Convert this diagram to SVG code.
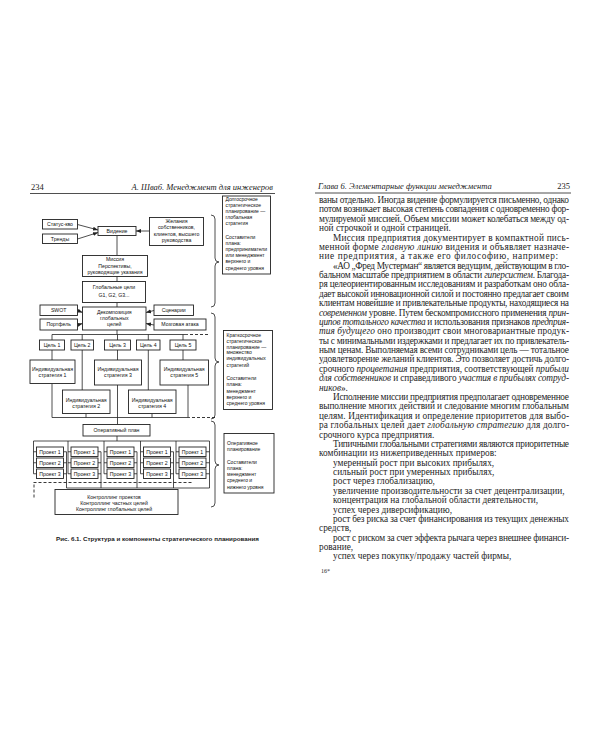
<svg xmlns="http://www.w3.org/2000/svg" width="600" height="750" viewBox="0 0 600 750">
<defs>
<marker id="ah" viewBox="0 0 10 10" refX="10" refY="5" markerWidth="5" markerHeight="5" markerUnits="userSpaceOnUse" orient="auto"><path d="M0,1 L10,5 L0,9 z" fill="#222"/></marker>
</defs>
<style>
.bx{fill:#fff;stroke:#222;stroke-width:0.9}
.ln{fill:none;stroke:#222;stroke-width:0.8}
.ar{fill:none;stroke:#222;stroke-width:0.8;marker-end:url(#ah)}
.ds{fill:none;stroke:#222;stroke-width:0.9;stroke-dasharray:3 2}
.t{font-family:"Liberation Sans",Arial,sans-serif;font-size:5.2px;fill:#111;text-anchor:middle}
.tl{font-family:"Liberation Sans",Arial,sans-serif;font-size:5px;fill:#111}
.p{font-family:"Liberation Serif","Times New Roman",serif;font-size:9.3px;fill:#1e1e1e}
.i{font-style:italic}
.hd{font-family:"Liberation Serif","Times New Roman",serif;font-size:8.5px;fill:#222}
.cap{font-family:"Liberation Sans",Arial,sans-serif;font-size:6.2px;font-weight:bold;fill:#1a1a1a}
</style>
<rect x="0" y="0" width="600" height="750" fill="#fff"/>

<!-- page headers -->
<g id="left-header">
<text class="hd" x="31" y="190">234</text>
<text class="hd i" x="273" y="190" text-anchor="end">А. Шваб. Менеджмент для инженеров</text>
<line class="ln" x1="30" y1="193.5" x2="275" y2="193.5"/>
</g>
<g id="right-header">
<text class="hd i" x="318" y="189">Глава 6. Элементарные функции менеджмента</text>
<text class="hd" x="570" y="189" text-anchor="end">235</text>
<line class="ln" x1="315" y1="193" x2="571" y2="193"/>
</g>

<!-- connectors -->
<g id="connectors">
<path class="ar" d="M77.5,224.5 L98,230"/>
<path class="ar" d="M77.5,239 L98,232.5"/>
<path class="ar" d="M149.5,231 L136,231"/>
<path class="ln" d="M117,235.5 V255.5 M117,276.5 V281.5 M117,302.5 V307"/>
<path class="ar" d="M77.5,310.5 L82.5,312.5"/>
<path class="ar" d="M77.5,325 L82.5,323.5"/>
<path class="ar" d="M154,310.5 L146,312.5"/>
<path class="ar" d="M154,325 L146,323.5"/>
<path class="ln" d="M117,330 V334.5 M52,334.5 H188 M52,334.5 V340 M82.2,334.5 V340 M117.5,334.5 V340 M148.3,334.5 V340 M183,334.5 V340"/>
<path class="ds" d="M190,334.5 H208"/>
<path class="ln" d="M52,350 V360 M82.2,350 V390 M117.5,350 V360 M148.3,350 V390 M183,350 V360"/>
<path class="ln" d="M52,383.5 V417.5 M188,385 V417.5 M117.5,385 V424.5 M86,413.5 V417.5 M152,413.5 V417.5 M52,417.5 H190"/>
<path class="ds" d="M192,417.5 H216"/>
<path class="ln" d="M117,436 V441 M33.5,441 H209.5"/>
<!-- project brackets -->
<path class="ln" d="M33.5,441 V473.75 M33.5,451.75 H36.5 M33.5,462.75 H36.5 M33.5,473.75 H36.5 M66.5,451.75 V488 M63.5,451.75 H66.5 M63.5,462.75 H66.5 M63.5,473.75 H66.5"/>
<path class="ln" d="M68,441 V473.75 M68,451.75 H71 M68,462.75 H71 M68,473.75 H71 M101,451.75 V488 M98,451.75 H101 M98,462.75 H101 M98,473.75 H101"/>
<path class="ln" d="M104,441 V473.75 M104,451.75 H107 M104,462.75 H107 M104,473.75 H107 M137,451.75 V488 M134,451.75 H137 M134,462.75 H137 M134,473.75 H137"/>
<path class="ln" d="M140.5,441 V473.75 M140.5,451.75 H143.5 M140.5,462.75 H143.5 M140.5,473.75 H143.5 M173.5,451.75 V488 M170.5,451.75 H173.5 M170.5,462.75 H173.5 M170.5,473.75 H173.5"/>
<path class="ln" d="M176,441 V473.75 M176,451.75 H179 M176,462.75 H179 M176,473.75 H179 M209.5,441 V488 M206,451.75 H209.5 M206,462.75 H209.5 M206,473.75 H209.5"/>
<path class="ln" d="M66.5,488 H209.5"/>
<path class="ds" d="M33.5,482.5 H193 M34,484.5 V499"/>
<!-- braces -->
<path class="ln" d="M211,215 Q215,215 215,219 L215,258 Q215,262 219,262 Q215,262 215,266 L215,303 Q215,307 211,307"/>
<path class="ln" d="M211,313 Q215,313 215,317 L215,358 Q215,362 219,362 Q215,362 215,366 L215,415 Q215,419 211,419"/>
<path class="ln" d="M211,421 Q215,421 215,425 L215,461 Q215,465 219,465 Q215,465 215,469 L215,503 Q215,507 211,507"/>
</g>

<!-- nodes -->
<g id="status-quo"><rect class="bx" x="42.5" y="219.5" width="35" height="9.5"/><text class="t" x="60" y="226.2">Статус-кво</text></g>
<g id="trends"><rect class="bx" x="42.5" y="234" width="35" height="9.5"/><text class="t" x="60" y="240.7">Тренды</text></g>
<g id="vision"><rect class="bx" x="98" y="226.5" width="38" height="9"/><text class="t" x="117" y="232.8">Видение</text></g>
<g id="wishes"><rect class="bx" x="149.5" y="217.5" width="54" height="28"/>
<text class="t" x="176.5" y="222.8">Желания</text><text class="t" x="176.5" y="229.1">собственников,</text><text class="t" x="176.5" y="235.6">клиентов, высшего</text><text class="t" x="176.5" y="241.8">руководства</text></g>
<g id="mission"><rect class="bx" x="82.5" y="255.5" width="65" height="21"/>
<text class="t" x="115" y="261.1">Миссия</text><text class="t" x="115" y="267.7">Перспективы,</text><text class="t" x="115" y="274">руководящие указания</text></g>
<g id="global-goals"><rect class="bx" x="82.5" y="281.5" width="63" height="21"/>
<text class="t" x="114" y="289">Глобальные цели</text><text class="t" x="114" y="296.7">G1, G2, G3...</text></g>
<g id="swot"><rect class="bx" x="40" y="305" width="37.5" height="10.5"/><text class="t" x="58.7" y="312">SWOT</text></g>
<g id="portfolio"><rect class="bx" x="40" y="319" width="37.5" height="11"/><text class="t" x="58.7" y="326.3">Портфель</text></g>
<g id="decomposition"><rect class="bx" x="82.5" y="307" width="63.5" height="23"/>
<text class="t" x="114.3" y="314.4">Декомпозиция</text><text class="t" x="114.3" y="320">глобальных</text><text class="t" x="114.3" y="325.7">целей</text></g>
<g id="scenarios"><rect class="bx" x="154" y="305" width="39.5" height="10.5"/><text class="t" x="173.7" y="312">Сценарии</text></g>
<g id="brainstorm"><rect class="bx" x="154" y="319" width="52" height="11"/><text class="t" x="180" y="326.3">Мозговая атака</text></g>

<g id="goal1"><rect class="bx" x="39.5" y="340" width="25" height="10"/><text class="t" x="52" y="346.8">Цель 1</text></g>
<g id="goal2"><rect class="bx" x="71" y="340" width="22.5" height="10"/><text class="t" x="82.2" y="346.8">Цель 2</text></g>
<g id="goal3"><rect class="bx" x="104.5" y="340" width="26" height="10"/><text class="t" x="117.5" y="346.8">Цель 3</text></g>
<g id="goal4"><rect class="bx" x="136.5" y="340" width="23.5" height="10"/><text class="t" x="148.3" y="346.8">Цель 4</text></g>
<g id="goal5"><rect class="bx" x="170" y="340" width="26" height="10"/><text class="t" x="183" y="346.8">Цель 5</text></g>

<g id="strategy1"><rect class="bx" x="30" y="360" width="45" height="23.5"/><text class="t" x="52.5" y="370.5">Индивидуальная</text><text class="t" x="52.5" y="377">стратегия 1</text></g>
<g id="strategy3"><rect class="bx" x="94.5" y="360" width="47" height="25"/><text class="t" x="118" y="370.5">Индивидуальная</text><text class="t" x="118" y="377">стратегия 3</text></g>
<g id="strategy5"><rect class="bx" x="160" y="360" width="48.5" height="25"/><text class="t" x="184.2" y="370.5">Индивидуальная</text><text class="t" x="184.2" y="377">стратегия 5</text></g>
<g id="strategy2"><rect class="bx" x="62.5" y="390" width="47.5" height="23.5"/><text class="t" x="86.2" y="401.5">Индивидуальная</text><text class="t" x="86.2" y="408">стратегия 2</text></g>
<g id="strategy4"><rect class="bx" x="128.5" y="390" width="47.5" height="23.5"/><text class="t" x="152.2" y="401.5">Индивидуальная</text><text class="t" x="152.2" y="408">стратегия 4</text></g>

<g id="operative-plan"><rect class="bx" x="83" y="424.5" width="67" height="11.5"/><text class="t" x="116.5" y="432">Оперативный план</text></g>

<g id="projects-1">
<rect class="bx" x="36.5" y="447" width="27" height="9.5"/><text class="t" x="50" y="453.6">Проект 1</text>
<rect class="bx" x="36.5" y="458" width="27" height="9.5"/><text class="t" x="50" y="464.6">Проект 2</text>
<rect class="bx" x="36.5" y="469" width="27" height="9.5"/><text class="t" x="50" y="475.6">Проект 3</text>
</g>
<g id="projects-2">
<rect class="bx" x="71" y="447" width="27" height="9.5"/><text class="t" x="84.5" y="453.6">Проект 1</text>
<rect class="bx" x="71" y="458" width="27" height="9.5"/><text class="t" x="84.5" y="464.6">Проект 2</text>
<rect class="bx" x="71" y="469" width="27" height="9.5"/><text class="t" x="84.5" y="475.6">Проект 3</text>
</g>
<g id="projects-3">
<rect class="bx" x="107" y="447" width="27" height="9.5"/><text class="t" x="120.5" y="453.6">Проект 1</text>
<rect class="bx" x="107" y="458" width="27" height="9.5"/><text class="t" x="120.5" y="464.6">Проект 2</text>
<rect class="bx" x="107" y="469" width="27" height="9.5"/><text class="t" x="120.5" y="475.6">Проект 3</text>
</g>
<g id="projects-4">
<rect class="bx" x="143.5" y="447" width="27" height="9.5"/><text class="t" x="157" y="453.6">Проект 1</text>
<rect class="bx" x="143.5" y="458" width="27" height="9.5"/><text class="t" x="157" y="464.6">Проект 2</text>
<rect class="bx" x="143.5" y="469" width="27" height="9.5"/><text class="t" x="157" y="475.6">Проект 3</text>
</g>
<g id="projects-5">
<rect class="bx" x="179" y="447" width="27" height="9.5"/><text class="t" x="192.5" y="453.6">Проект 1</text>
<rect class="bx" x="179" y="458" width="27" height="9.5"/><text class="t" x="192.5" y="464.6">Проект 2</text>
<rect class="bx" x="179" y="469" width="27" height="9.5"/><text class="t" x="192.5" y="475.6">Проект 3</text>
</g>

<g id="controlling"><rect class="bx" x="55" y="489.5" width="123" height="25"/>
<text class="t" x="114" y="499">Контроллинг проектов</text><text class="t" x="114" y="505">Контроллинг частных целей</text><text class="t" x="114" y="511">Контроллинг глобальных целей</text></g>

<g id="note-long-term"><rect class="bx" x="222.5" y="196" width="48" height="78"/>
<text class="tl" x="225.5" y="200.8">Долгосрочное</text><text class="tl" x="225.5" y="206.8">стратегическое</text><text class="tl" x="225.5" y="213.4">планирование —</text><text class="tl" x="225.5" y="219.4">глобальная</text><text class="tl" x="225.5" y="225.1">стратегия</text>
<text class="tl" x="225.5" y="238.5">Составители</text><text class="tl" x="225.5" y="245">плана:</text><text class="tl" x="225.5" y="250.8">предприниматели</text><text class="tl" x="225.5" y="256.8">или менеджмент</text><text class="tl" x="225.5" y="263.4">верхнего и</text><text class="tl" x="225.5" y="270">среднего уровня</text></g>
<g id="note-short-term"><rect class="bx" x="223.5" y="330.5" width="49" height="79"/>
<text class="tl" x="226.5" y="336.8">Краткосрочное</text><text class="tl" x="226.5" y="342.5">стратегическое</text><text class="tl" x="226.5" y="348.5">планирование —</text><text class="tl" x="226.5" y="354.1">множество</text><text class="tl" x="226.5" y="360.1">индивидуальных</text><text class="tl" x="226.5" y="366.8">стратегий</text>
<text class="tl" x="226.5" y="380.1">Составители</text><text class="tl" x="226.5" y="386.1">плана:</text><text class="tl" x="226.5" y="392.5">менеджмент</text><text class="tl" x="226.5" y="398.5">верхнего и</text><text class="tl" x="226.5" y="405.1">среднего уровня</text></g>
<g id="note-operative"><rect class="bx" x="224" y="433.5" width="50" height="59.5"/>
<text class="tl" x="227" y="444.5">Оперативное</text><text class="tl" x="227" y="450.8">планирование</text>
<text class="tl" x="227" y="463.5">Составители</text><text class="tl" x="227" y="469.5">плана:</text><text class="tl" x="227" y="475.8">менеджмент</text><text class="tl" x="227" y="481.8">среднего и</text><text class="tl" x="227" y="488.5">нижнего уровня</text></g>

<text class="cap" x="56" y="541" textLength="203" lengthAdjust="spacingAndGlyphs">Рис. 6.1. Структура и компоненты стратегического планирования</text>

<!-- right page text -->
<g id="right-page-text" class="p">
<text x="319" y="203" textLength="250" lengthAdjust="spacing">ваны отдельно. Иногда видение формулируется письменно, однако</text>
<text x="319" y="212.38" textLength="250" lengthAdjust="spacing">потом возникает высокая степень совпадения с одновременно фор-</text>
<text x="319" y="221.76" textLength="250" lengthAdjust="spacing">мулируемой миссией. Объем миссии может колебаться между од-</text>
<text x="319" y="231.14">ной строчкой и одной страницей.</text>
<text x="333" y="240.52" textLength="236" lengthAdjust="spacing">Миссия предприятия документирует в компактной пись-</text>
<text x="319" y="249.9" textLength="250" lengthAdjust="spacing">менной форме <tspan class="i">главную линию</tspan> видения и объявляет назначе-</text>
<text x="319" y="259.28" textLength="239" lengthAdjust="spacing">ние предприятия, а также его философию, например:</text>
<text x="333" y="268.66" textLength="236" lengthAdjust="spacing">«АО „Фред Мустерман“ является ведущим, действующим в гло-</text>
<text x="319" y="278.04" textLength="250" lengthAdjust="spacing">бальном масштабе предприятием в области <tspan class="i">гиперсистем</tspan>. Благода-</text>
<text x="319" y="287.42" textLength="250" lengthAdjust="spacing">ря целеориентированным исследованиям и разработкам оно обла-</text>
<text x="319" y="296.8" textLength="250" lengthAdjust="spacing">дает высокой инновационной силой и постоянно предлагает своим</text>
<text x="319" y="306.18" textLength="250" lengthAdjust="spacing">клиентам новейшие и привлекательные продукты, находящиеся на</text>
<text x="319" y="315.56" textLength="250" lengthAdjust="spacing"><tspan class="i">современном</tspan> уровне. Путем бескомпромиссного применения <tspan class="i">прин-</tspan></text>
<text x="319" y="324.94" textLength="250" lengthAdjust="spacing"><tspan class="i">ципов тотального качества</tspan> и использования признаков <tspan class="i">предприя-</tspan></text>
<text x="319" y="334.32" textLength="250" lengthAdjust="spacing"><tspan class="i">тия будущего</tspan> оно производит свои многовариантные продук-</text>
<text x="319" y="343.7" textLength="250" lengthAdjust="spacing">ты с минимальными издержками и предлагает их по привлекатель-</text>
<text x="319" y="353.08" textLength="250" lengthAdjust="spacing">ным ценам. Выполняемая всеми сотрудниками цель — тотальное</text>
<text x="319" y="362.46" textLength="250" lengthAdjust="spacing">удовлетворение желаний клиентов. Это позволяет достичь долго-</text>
<text x="319" y="371.84" textLength="250" lengthAdjust="spacing">срочного <tspan class="i">процветания</tspan> предприятия, соответствующей <tspan class="i">прибыли</tspan></text>
<text x="319" y="381.22" textLength="250" lengthAdjust="spacing"><tspan class="i">для собственников</tspan> и справедливого <tspan class="i">участия в прибылях сотруд-</tspan></text>
<text x="319" y="390.6"><tspan class="i">ников</tspan>».</text>
<text x="333" y="399.98" textLength="236" lengthAdjust="spacing">Исполнение миссии предприятия предполагает одновременное</text>
<text x="319" y="409.36" textLength="250" lengthAdjust="spacing">выполнение многих действий и следование многим глобальным</text>
<text x="319" y="418.74" textLength="250" lengthAdjust="spacing">целям. Идентификация и определение приоритетов для выбо-</text>
<text x="319" y="428.12" textLength="250" lengthAdjust="spacing">ра глобальных целей дает <tspan class="i">глобальную стратегию</tspan> для долго-</text>
<text x="319" y="437.5">срочного курса предприятия.</text>
<text x="333" y="446.88" textLength="236" lengthAdjust="spacing">Типичными глобальными стратегиями являются приоритетные</text>
<text x="319" y="456.26">комбинации из нижеприведенных примеров:</text>
<text x="333" y="465.64">умеренный рост при высоких прибылях,</text>
<text x="333" y="475.02">сильный рост при умеренных прибылях,</text>
<text x="333" y="484.4">рост через глобализацию,</text>
<text x="333" y="493.78">увеличение производительности за счет децентрализации,</text>
<text x="333" y="503.16">концентрация на глобальной области деятельности,</text>
<text x="333" y="512.54">успех через диверсификацию,</text>
<text x="333" y="521.92" textLength="236" lengthAdjust="spacing">рост без риска за счет финансирования из текущих денежных</text>
<text x="319" y="531.3">средств,</text>
<text x="333" y="540.68" textLength="236" lengthAdjust="spacing">рост с риском за счет эффекта рычага через внешнее финанси-</text>
<text x="319" y="550.06">рование,</text>
<text x="333" y="559.44">успех через покупку/продажу частей фирмы,</text>
<text x="321" y="573" style="font-size:6px">16*</text>
</g>
</svg>
